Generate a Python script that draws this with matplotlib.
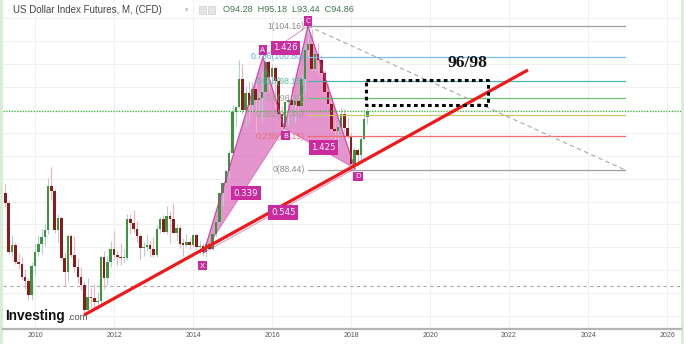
import numpy as np
import matplotlib.pyplot as plt
from matplotlib.patches import Polygon, Rectangle

# monthly bars, Mar 2009 .. Jun 2018
opens = [88.5, 85.9, 84.8, 79.5, 80.2, 78.4, 78.2, 76.8, 76.3, 74.8,
         78.0, 79.5, 80.4, 81.1, 81.9, 86.7, 86.2, 81.9, 83.2, 78.8, 77.3, 81.2,
         79.2, 77.8, 76.8, 75.9, 73.2, 74.6, 74.5, 74.0, 74.1, 78.9, 76.6, 78.4,
         79.8, 79.2, 78.9, 78.8, 78.8, 83.1, 82.7, 82.0, 81.2, 79.9, 80.0, 80.2,
         79.8, 79.2, 82.0, 83.1, 81.7, 83.4, 83.1, 81.6, 82.1, 80.4, 80.3, 80.6,
         80.2, 81.3, 80.0, 80.1, 79.5, 80.4, 79.8, 81.5, 82.8, 85.9, 87.0, 88.3,
         90.3, 94.8, 95.3, 98.4, 95.0, 96.9, 95.5, 97.3, 96.1, 96.3, 97.0, 100.2,
         98.6, 99.6, 98.2, 94.6, 93.1, 95.9, 96.1, 95.5, 96.0, 95.4, 98.4, 101.5,
         102.2, 99.5, 101.1, 100.4, 99.0, 97.0, 95.6, 92.9, 92.7, 93.1, 94.5, 93.0,
         92.1, 89.1, 90.6, 90.1, 91.8, 94.28]
highs = [89.6, 86.9, 85.2, 81.3, 80.6, 79.4, 78.9, 77.6, 76.6, 78.4,
         80.4, 81.3, 82.0, 82.6, 87.6, 88.8, 86.4, 83.6, 83.4, 79.5, 81.5, 81.5,
         81.2, 78.8, 77.8, 76.3, 76.6, 75.6, 76.0, 75.1, 79.0, 79.6, 79.1, 80.7,
         81.8, 79.6, 80.5, 79.8, 83.6, 83.6, 84.1, 82.9, 81.5, 80.6, 81.5, 80.7,
         81.1, 82.4, 83.3, 83.5, 84.5, 84.0, 84.8, 82.5, 82.4, 81.0, 81.5, 81.0,
         81.5, 81.4, 80.7, 80.5, 80.7, 81.1, 81.6, 82.9, 86.0, 87.0, 88.4, 90.6,
         95.5, 95.4, 100.4, 100.0, 97.6, 98.2, 98.0, 98.4, 97.0, 99.2, 100.5, 100.5,
         100.0, 99.8, 98.6, 95.4, 96.0, 96.7, 97.6, 96.2, 96.1, 98.9, 102.1, 104.16,
         103.8, 101.8, 102.3, 101.0, 99.4, 97.8, 96.0, 93.9, 93.8, 95.2, 95.1, 94.2,
         92.6, 90.9, 90.8, 92.0, 95.0, 95.18]
lows = [83.3, 84.4, 79.3, 79.0, 78.2, 77.6, 76.4, 75.4, 74.2, 74.3,
        77.0, 79.0, 79.3, 80.1, 81.5, 85.2, 81.6, 80.6, 78.6, 75.8, 76.3, 78.9,
        77.3, 76.1, 75.3, 72.8, 72.8, 73.5, 73.4, 73.1, 73.5, 75.5, 75.9, 77.8,
        78.6, 78.1, 78.1, 78.3, 78.6, 81.4, 81.6, 80.6, 78.6, 79.1, 79.6, 78.9,
        78.9, 78.9, 81.6, 81.6, 81.5, 80.5, 81.6, 80.8, 79.9, 79.0, 80.0, 79.8,
        80.0, 79.8, 79.3, 79.1, 78.9, 79.9, 79.7, 81.1, 82.6, 84.5, 86.9, 87.6,
        90.0, 93.2, 95.2, 94.5, 93.1, 93.5, 94.8, 92.6, 94.5, 93.8, 96.8, 97.2,
        97.7, 95.2, 94.6, 92.6, 91.9, 93.4, 95.2, 93.6, 94.5, 95.4, 96.8, 100.7,
        99.4, 99.2, 98.9, 98.8, 96.8, 95.5, 92.6, 91.0, 91.0, 92.8, 92.5, 91.8,
        88.6, 88.44, 88.9, 89.3, 91.7, 93.44]
closes = [85.9, 84.8, 79.5, 80.2, 78.4, 78.2, 76.8, 76.3, 74.8, 78.0,
          79.5, 80.4, 81.1, 81.9, 86.7, 86.2, 81.9, 83.2, 78.8, 77.3, 81.2, 79.2,
          77.8, 76.8, 75.9, 73.2, 74.6, 74.5, 74.0, 74.1, 78.9, 76.6, 78.4, 79.8,
          79.2, 78.9, 78.8, 78.8, 83.1, 82.7, 82.0, 81.2, 79.9, 80.0, 80.2, 79.8,
          79.2, 82.0, 83.1, 81.7, 83.4, 83.1, 81.6, 82.1, 80.4, 80.3, 80.6, 80.2,
          81.3, 80.0, 80.1, 79.5, 80.4, 79.8, 81.5, 82.8, 85.9, 87.0, 88.3, 90.3,
          94.8, 95.3, 98.4, 95.0, 96.9, 95.5, 97.3, 96.1, 96.3, 97.0, 100.2, 98.6,
          99.6, 98.2, 94.6, 93.1, 95.9, 96.1, 95.5, 96.0, 95.4, 98.4, 101.5, 102.2,
          99.5, 101.1, 100.4, 99.0, 97.0, 95.6, 92.9, 92.7, 93.1, 94.5, 93.0, 92.1,
          89.1, 90.6, 90.1, 91.8, 94.0, 94.86]

# XABCD pattern points (decimal year, price)
pat_names = ['X', 'A', 'B', 'C', 'D']
pat_t = [2014.27, 2015.77, 2016.31, 2016.91, 2018.10]
pat_p = [79.4, 100.8, 93.0, 104.16, 88.6]
ratio_labels = ['0.339', '1.426', '1.425', '0.545']

# fibonacci retracement C -> D
fib_hi, fib_lo = 104.16, 88.44
fib_ratios = [1, 0.786, 0.618, 0.5, 0.382, 0.236, 0]
fib_line_cols = ['#9e9e9e', '#7cbdf0', '#4db6ac', '#6cc070', '#c8c86a', '#ef6b6b', '#9e9e9e']
fib_text_cols = ['#8a8a8a', '#5aa8e8', '#50c0a0', '#9aa890', '#a09a8a', '#e07070', '#8a8a8a']
fib_t0, fib_t1 = 2016.91, 2024.94

trend_t = [2011.24, 2022.48]
trend_p = [72.6, 99.36]
last_close = 94.86
dashed_level = 75.8
box_t = [2018.38, 2021.47]
box_p = [95.55, 98.25]
years = list(range(2010, 2027, 2))

W, H = 684, 344
fig = plt.figure(figsize=(W / 100, H / 100), dpi=100, facecolor='#d8ecd6')
fig.patches.append(Rectangle((3 / W, 0), 678 / W, 1, transform=fig.transFigure,
                             facecolor='white', edgecolor='none', zorder=-1))
ax = fig.add_axes([3 / W, 15 / H, 678 / W, 329 / H])
ax.set_facecolor('white')
ax.set_xlim(2009.19, 2026.354)
ax.set_ylim(71.08, 107.0)

for s in ['top', 'left', 'right']:
    ax.spines[s].set_visible(False)
ax.spines['bottom'].set_color('#b4b4b4')
ax.spines['bottom'].set_linewidth(1.6)
ax.set_xticks(years)
ax.set_xticklabels([str(y) for y in years], fontsize=5, color='#555555',
                   family='Liberation Sans')
ax.tick_params(axis='x', length=0, pad=2.5)
ax.set_yticks(np.arange(72.5, 107, 2.5))
ax.tick_params(axis='y', length=0, labelleft=False)
ax.grid(True, color='#f0f0f0', lw=0.7)
ax.set_axisbelow(True)

# harmonic pattern fill (under the candles)
pink = '#cc2a9f'
ax.add_patch(Polygon(list(zip(pat_t[:3], pat_p[:3])), closed=True,
                     facecolor='#d85cb4', alpha=0.65, edgecolor='none', zorder=1.5))
ax.add_patch(Polygon(list(zip(pat_t[2:], pat_p[2:])), closed=True,
                     facecolor='#d85cb4', alpha=0.65, edgecolor='none', zorder=1.5))

# candles
t = 2009 + (2 + np.arange(len(closes))) / 12
o = np.array(opens); c = np.array(closes)
up = c >= o
ax.vlines(t[up], np.array(lows)[up], np.array(highs)[up], color='#b0d0dc', lw=0.8, zorder=2)
ax.vlines(t[~up], np.array(lows)[~up], np.array(highs)[~up], color='#f0b4bd', lw=0.8, zorder=2)
bot = np.minimum(o, c)
hgt = np.maximum(np.abs(c - o), 0.12)
ax.bar(t[up], hgt[up], bottom=bot[up], width=0.065, color='#3a963a', zorder=3)
ax.bar(t[~up], hgt[~up], bottom=bot[~up], width=0.065, color='#8c1c1c', zorder=3)

# horizontal reference lines
ax.axhline(last_close, color='#2dbb2d', lw=0.9, ls=(0, (1, 1.2)), zorder=4)
ax.axhline(dashed_level, color='#a8a8a8', lw=0.8, ls=(0, (3, 3)), zorder=1)

# fibonacci
for r, lc, tc in zip(fib_ratios, fib_line_cols, fib_text_cols):
    lvl = fib_lo + r * (fib_hi - fib_lo)
    ax.plot([fib_t0, fib_t1], [lvl, lvl], color=lc, lw=0.9, zorder=4)
    lab = '%g(%.2f)' % (r, lvl)
    ax.text(fib_t0 - 0.08, lvl, lab, ha='right', va='center', fontsize=6.2,
            color=tc, family='Liberation Sans', zorder=8)
ax.plot([fib_t0, fib_t1], [fib_hi, fib_lo], color='#a8a8a8', lw=0.8,
        ls=(0, (4, 3)), zorder=4)

# pattern outline
ax.plot(pat_t, pat_p, color=pink, lw=0.9, alpha=0.8, zorder=6)
pairs = [(0, 2), (1, 3), (2, 4), (0, 4)]
for (i, j) in pairs:
    ax.plot([pat_t[i], pat_t[j]], [pat_p[i], pat_p[j]], color=pink, lw=0.6,
            alpha=0.6, zorder=6)

# red trend line
ax.plot(trend_t, trend_p, color='#f01818', lw=2.3, solid_capstyle='butt', zorder=7)

# labels on pattern
lab_off = [(-0.03, -1.4), (0, 0.75), (0.03, -0.8), (0, 0.55), (0.08, -0.85)]
for n, x, y, (dx, dy) in zip(pat_names, pat_t, pat_p, lab_off):
    ax.text(x + dx, y + dy, n, ha='center', va='center', fontsize=5.2, color='white',
            family='DejaVu Sans',
            bbox=dict(boxstyle='square,pad=0.25', fc=pink, ec='none'), zorder=9)
rat_off = [(0.05, -0.3), (0.0, -0.7), (0.1, 0.1), (0.1, -0.2)]
for k, (i, j) in enumerate(pairs):
    mx = (pat_t[i] + pat_t[j]) / 2
    my = (pat_p[i] + pat_p[j]) / 2
    ax.text(mx + rat_off[k][0], my + rat_off[k][1], ratio_labels[k], ha='center',
            va='center', fontsize=6.2, color='white', family='DejaVu Sans',
            bbox=dict(boxstyle='square,pad=0.3', fc=pink, ec='none'), zorder=9)

# dotted target box
bx = [box_t[0], box_t[1], box_t[1], box_t[0], box_t[0]]
by = [box_p[1], box_p[1], box_p[0], box_p[0], box_p[1]]
ax.plot(bx, by, color='black', lw=2.2, ls=(0, (1.2, 1.1)), dash_capstyle='butt', zorder=8)
ax.text(2020.95, 100.1, '96/98', ha='center', va='center', fontsize=12.5,
        fontweight='bold', family='Liberation Serif', color='#111111', zorder=8)

# header
def px(x, y):
    return x / W, 1 - y / H

fig.text(*px(13, 10), 'US Dollar Index Futures, M, (CFD)', ha='left', va='center',
         fontsize=7, color='#444444', family='Liberation Sans')
fig.text(*px(185, 10), '\u25be', ha='left', va='center', fontsize=5, color='#bbbbbb')
for xx in [199, 208]:
    fig.patches.append(Rectangle(px(xx, 14), 7 / W, 8 / H, transform=fig.transFigure,
                                 facecolor='#e4e4e4', edgecolor='#cfcfcf', lw=0.5))
fig.text(*px(223, 10), 'O94.28  H95.18  L93.44  C94.86', ha='left', va='center',
         fontsize=6.6, color='#3f7a52', family='Liberation Sans')

# logo
fig.text(*px(5, 316), 'Investing', ha='left', va='center', fontsize=9.8,
         fontweight='bold', color='#111111', family='Liberation Sans')
fig.text(*px(67, 318), '.com', ha='left', va='center', fontsize=6.8,
         color='#555555', family='Liberation Sans')

fig.savefig('out.png', dpi=100, facecolor=fig.get_facecolor())
